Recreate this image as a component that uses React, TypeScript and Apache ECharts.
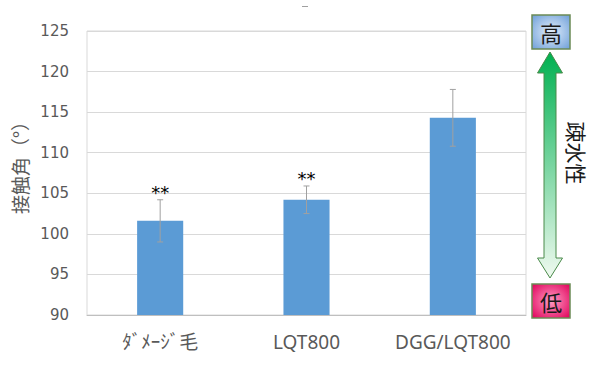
import React, { useEffect, useRef } from "react";
import * as echarts from "echarts";

const categories = ["ﾀﾞﾒｰｼﾞ毛", "LQT800", "DGG/LQT800"];
const values = [101.6, 104.2, 114.3];
const errors = [2.6, 1.7, 3.5];
const marks = ["**", "**", ""];
const yTicks = { min: 90, max: 125, interval: 5 };

export default function App() {
  const ref = useRef<HTMLDivElement>(null);
  useEffect(() => {
    if (!ref.current) return;
    const chart = echarts.init(ref.current, undefined, { renderer: "svg" });
    const textColor = "#595959";
    const option: any = {
      animation: false,
      backgroundColor: "#ffffff",
      grid: {
        left: 87,
        top: 31,
        right: 74,
        bottom: 51,
        show: true,
        borderColor: "#d9d9d9",
        borderWidth: 1,
      },
      xAxis: {
        type: "category",
        data: categories,
        axisLine: { lineStyle: { color: "#bfbfbf" } },
        axisTick: { show: false },
        axisLabel: {
          interval: 0,
          color: textColor,
          fontSize: 19,
          fontFamily: "Noto Sans, Noto Sans CJK JP",
          margin: 17,
        },
      },
      yAxis: {
        type: "value",
        min: yTicks.min,
        max: yTicks.max,
        interval: yTicks.interval,
        name: "接触角（°）",
        nameLocation: "middle",
        nameGap: 52,
        nameTextStyle: {
          color: textColor,
          fontSize: 19,
          fontFamily: "Noto Sans CJK JP",
          padding: [0, 0, 0, 20],
        },
        axisLine: { show: false },
        axisTick: { show: false },
        splitLine: { lineStyle: { color: "#d9d9d9" } },
        axisLabel: {
          color: textColor,
          fontSize: 15,
          fontFamily: "DejaVu Sans",
          margin: 18,
        },
      },
      series: [
        {
          type: "bar",
          data: values,
          barWidth: "31.5%",
          itemStyle: { color: "#5b9bd5" },
        },
        {
          type: "custom",
          data: values.map((v, i) => [i, v - errors[i], v + errors[i]]),
          z: 10,
          renderItem: (params: any, api: any) => {
            const i = api.value(0);
            const lo = api.coord([i, api.value(1)]);
            const hi = api.coord([i, api.value(2)]);
            const x = lo[0];
            const cap = 3;
            const style = { stroke: "#a0a0a0", lineWidth: 1 };
            const children: any[] = [
              { type: "line", shape: { x1: x, y1: hi[1], x2: x, y2: lo[1] }, style },
              { type: "line", shape: { x1: x - cap, y1: hi[1], x2: x + cap, y2: hi[1] }, style },
              { type: "line", shape: { x1: x - cap, y1: lo[1], x2: x + cap, y2: lo[1] }, style },
            ];
            const m = marks[params.dataIndex];
            if (m) {
              children.push({
                type: "text",
                x: x,
                y: hi[1] + 2,
                style: {
                  text: m,
                  fill: "#000000",
                  font: "18px DejaVu Sans",
                  align: "center",
                  verticalAlign: "bottom",
                },
              });
            }
            return { type: "group", children };
          },
        },
      ],
      graphic: [
        {
          type: "line",
          shape: { x1: 302, y1: 6.5, x2: 308, y2: 6.5 },
          style: { stroke: "#a0a0a0", lineWidth: 1 },
        },
        {
          type: "polygon",
          shape: {
            points: [
              [550, 52],
              [537.5, 73],
              [544, 73],
              [544, 258],
              [537.5, 258],
              [550, 278],
              [562.5, 258],
              [556, 258],
              [556, 73],
              [562.5, 73],
            ],
          },
          style: {
            fill: new echarts.graphic.LinearGradient(0, 0, 0, 1, [
              { offset: 0, color: "#00b050" },
              { offset: 1, color: "#f0faf0" },
            ]),
            stroke: "#4a8a4a",
            lineWidth: 1,
          },
        },
        {
          type: "rect",
          shape: { x: 532, y: 15, width: 38, height: 34 },
          style: {
            fill: new echarts.graphic.RadialGradient(0.5, 0.5, 0.7, [
              { offset: 0, color: "#e3eefb" },
              { offset: 1, color: "#6e9fd8" },
            ]),
            stroke: "#6b8a55",
            lineWidth: 1.5,
          },
        },
        {
          type: "text",
          x: 551,
          y: 32,
          style: {
            text: "高",
            font: "22px Noto Sans CJK JP",
            fill: "#1a1a1a",
            align: "center",
            verticalAlign: "middle",
          },
        },
        {
          type: "rect",
          shape: { x: 532, y: 284, width: 38, height: 34 },
          style: {
            fill: new echarts.graphic.RadialGradient(0.5, 0.5, 0.7, [
              { offset: 0, color: "#ff9cc4" },
              { offset: 1, color: "#e0005a" },
            ]),
            stroke: "#6b8a55",
            lineWidth: 1.5,
          },
        },
        {
          type: "text",
          x: 551,
          y: 301,
          style: {
            text: "低",
            font: "22px Noto Sans CJK JP",
            fill: "#1a1a1a",
            align: "center",
            verticalAlign: "middle",
          },
        },
        {
          type: "text",
          x: 577,
          y: 153,
          rotation: -Math.PI / 2,
          style: {
            text: "疎水性",
            font: "21px Noto Sans CJK JP",
            fill: "#1a1a1a",
            align: "center",
            verticalAlign: "middle",
          },
        },
      ],
    };
    chart.setOption(option);
    return () => chart.dispose();
  }, []);
  return <div ref={ref} style={{ width: 600, height: 366, position: "absolute", left: 0, top: 0 }} />;
}
